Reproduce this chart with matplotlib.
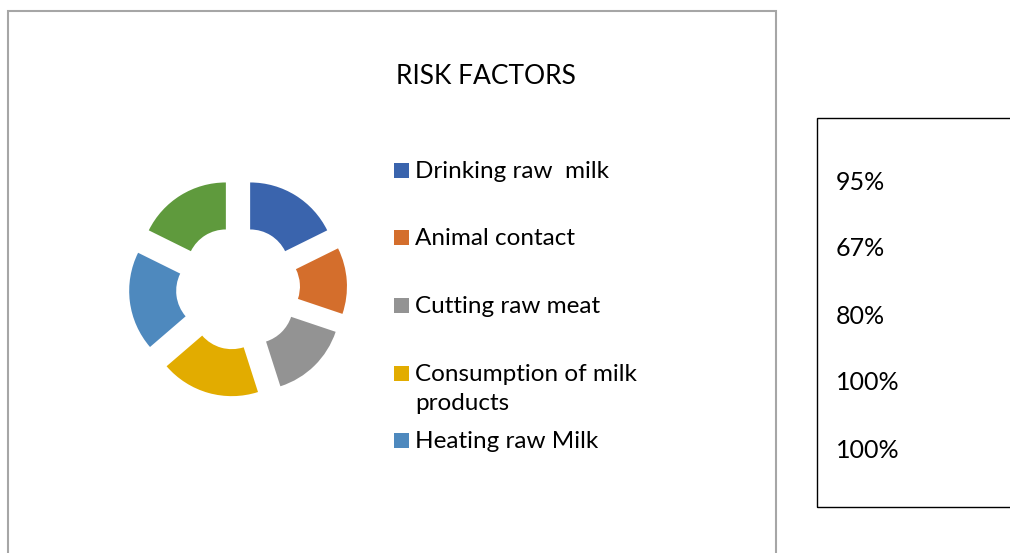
import matplotlib.pyplot as plt
from matplotlib.patches import Rectangle

categories = ["Drinking raw  milk", "Animal contact", "Cutting raw meat",
              "Consumption of milk\nproducts", "Heating raw Milk"]
percent = [95, 67, 80, 100, 100]
# sixth (unlabelled) slice seen in the doughnut
extra_value = 95
colors = ["#3A64AD", "#D46E2C", "#939393", "#E2AC00", "#4E89BE", "#5F9A3D"]

W, H = 1010, 553
fig = plt.figure(figsize=(W / 100, H / 100), dpi=100)
plt.rcParams['font.family'] = ['Lato', 'DejaVu Sans']


def px(x, y):
    # pixel coords (top-left origin) -> figure fraction
    return x / W, 1 - y / H


# chart area border
fig.patches.append(Rectangle(px(8, 560), 768 / W, 549 / H, transform=fig.transFigure,
                             fill=False, edgecolor="#a6a6a6", lw=1.5))

# doughnut
cx, cy, half = 238, 288, 120
ax = fig.add_axes([(cx - half) / W, 1 - (cy + half) / H, 2 * half / W, 2 * half / H])
r = 86
ax.pie(percent + [extra_value], colors=colors, startangle=90, counterclock=False,
       radius=1, explode=[23 / r] * 6, wedgeprops=dict(width=47 / r, edgecolor="none"))
ax.set_xlim(-half / r, half / r)
ax.set_ylim(-half / r, half / r)
ax.set_aspect("equal")
ax.axis("off")

fig.text(*px(486, 76), "RISK FACTORS", ha="center", va="center", fontsize=19)

# legend
leg_y = [171, 238, 306, 374, 441]
for lab, c, y in zip(categories, colors, leg_y):
    fig.patches.append(Rectangle(px(394, y + 7), 15 / W, 15 / H, transform=fig.transFigure,
                                 facecolor=c, edgecolor="none"))
    fig.text(*px(415, y - 10), lab, ha="left", va="top", fontsize=17.5, linespacing=1.5)

# side box with percentages
fig.patches.append(Rectangle(px(817, 507), 200 / W, 389 / H, transform=fig.transFigure,
                             fill=False, edgecolor="black", lw=1))
for i, v in enumerate(percent):
    fig.text(*px(836, 182 + i * 67), f"{v}%", ha="left", va="center", fontsize=18)

fig.savefig("out.png", dpi=100)
